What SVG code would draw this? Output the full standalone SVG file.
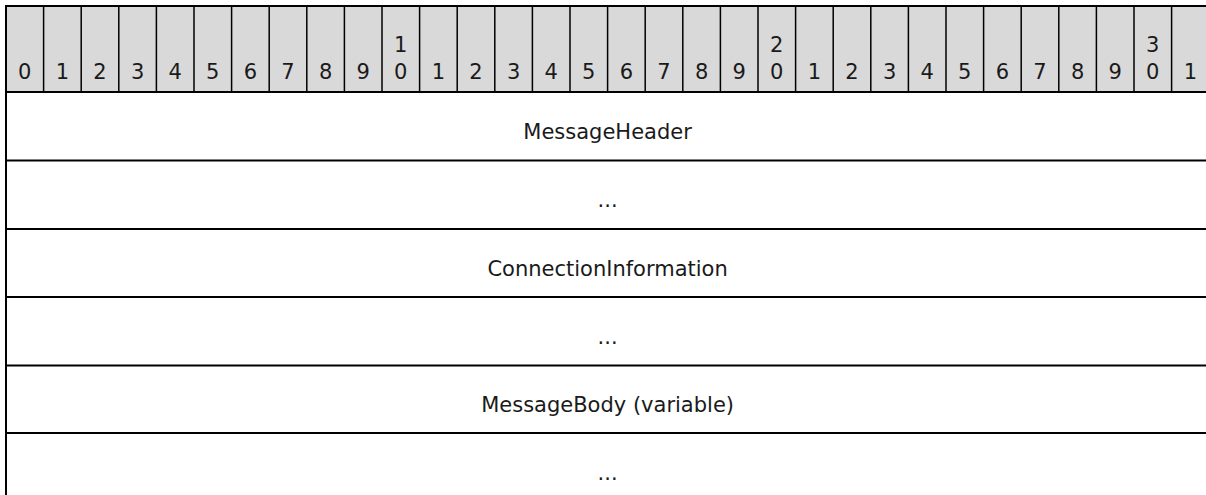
<svg xmlns="http://www.w3.org/2000/svg" width="1206" height="495" viewBox="0 0 1206 495">
<style>
.hd{fill:#d9d9d9;stroke:none}
.ln{stroke:#000;stroke-width:1.5;fill:none}
.bd{stroke:#000;stroke-width:2;fill:none}
.n{font-family:"DejaVu Sans",Verdana,sans-serif;font-size:21px;fill:#1a1a1a;text-anchor:middle}
.t{font-family:"DejaVu Sans",Verdana,sans-serif;font-size:21px;fill:#1a1a1a;text-anchor:middle}
</style>
<g id="header">
<rect class="hd" x="6" y="6" width="1204" height="86"/>
<g class="ln">
<path d="M43.6 6V92M81.2 6V92M118.8 6V92M156.4 6V92M194 6V92M231.6 6V92M269.2 6V92M306.8 6V92M344.4 6V92M382 6V92M419.6 6V92M457.2 6V92M494.8 6V92M532.4 6V92M570 6V92M607.6 6V92M645.2 6V92M682.8 6V92M720.4 6V92M758 6V92M795.6 6V92M833.2 6V92M870.8 6V92M908.4 6V92M946 6V92M983.6 6V92M1021.2 6V92M1058.8 6V92M1096.4 6V92M1134 6V92M1171.6 6V92"/>
</g>
<g class="n">
<text x="24.8" y="79">0</text>
<text x="62.4" y="79">1</text>
<text x="100" y="79">2</text>
<text x="137.6" y="79">3</text>
<text x="175.2" y="79">4</text>
<text x="212.8" y="79">5</text>
<text x="250.4" y="79">6</text>
<text x="288" y="79">7</text>
<text x="325.6" y="79">8</text>
<text x="363.2" y="79">9</text>
<text x="400.8" y="52">1</text><text x="400.8" y="79">0</text>
<text x="438.4" y="79">1</text>
<text x="476" y="79">2</text>
<text x="513.6" y="79">3</text>
<text x="551.2" y="79">4</text>
<text x="588.8" y="79">5</text>
<text x="626.4" y="79">6</text>
<text x="664" y="79">7</text>
<text x="701.6" y="79">8</text>
<text x="739.2" y="79">9</text>
<text x="776.8" y="52">2</text><text x="776.8" y="79">0</text>
<text x="814.4" y="79">1</text>
<text x="852" y="79">2</text>
<text x="889.6" y="79">3</text>
<text x="927.2" y="79">4</text>
<text x="964.8" y="79">5</text>
<text x="1002.4" y="79">6</text>
<text x="1040" y="79">7</text>
<text x="1077.6" y="79">8</text>
<text x="1115.2" y="79">9</text>
<text x="1152.8" y="52">3</text><text x="1152.8" y="79">0</text>
<text x="1190.4" y="79">1</text>
</g>
</g>
<g id="grid">
<path class="bd" d="M5 6H1210M6 6V495M5 92H1210M5 160.5H1210M5 229H1210M5 297H1210M5 365.5H1210M5 433H1210"/>
</g>
<g id="row-MessageHeader"><text class="t" x="607.6" y="139">MessageHeader</text></g>
<g id="row-1"><text class="t" x="607.6" y="207">...</text></g>
<g id="row-ConnectionInformation"><text class="t" x="607.6" y="276">ConnectionInformation</text></g>
<g id="row-3"><text class="t" x="607.6" y="344">...</text></g>
<g id="row-MessageBody"><text class="t" x="607.6" y="412">MessageBody (variable)</text></g>
<g id="row-5"><text class="t" x="607.6" y="480">...</text></g>
</svg>
